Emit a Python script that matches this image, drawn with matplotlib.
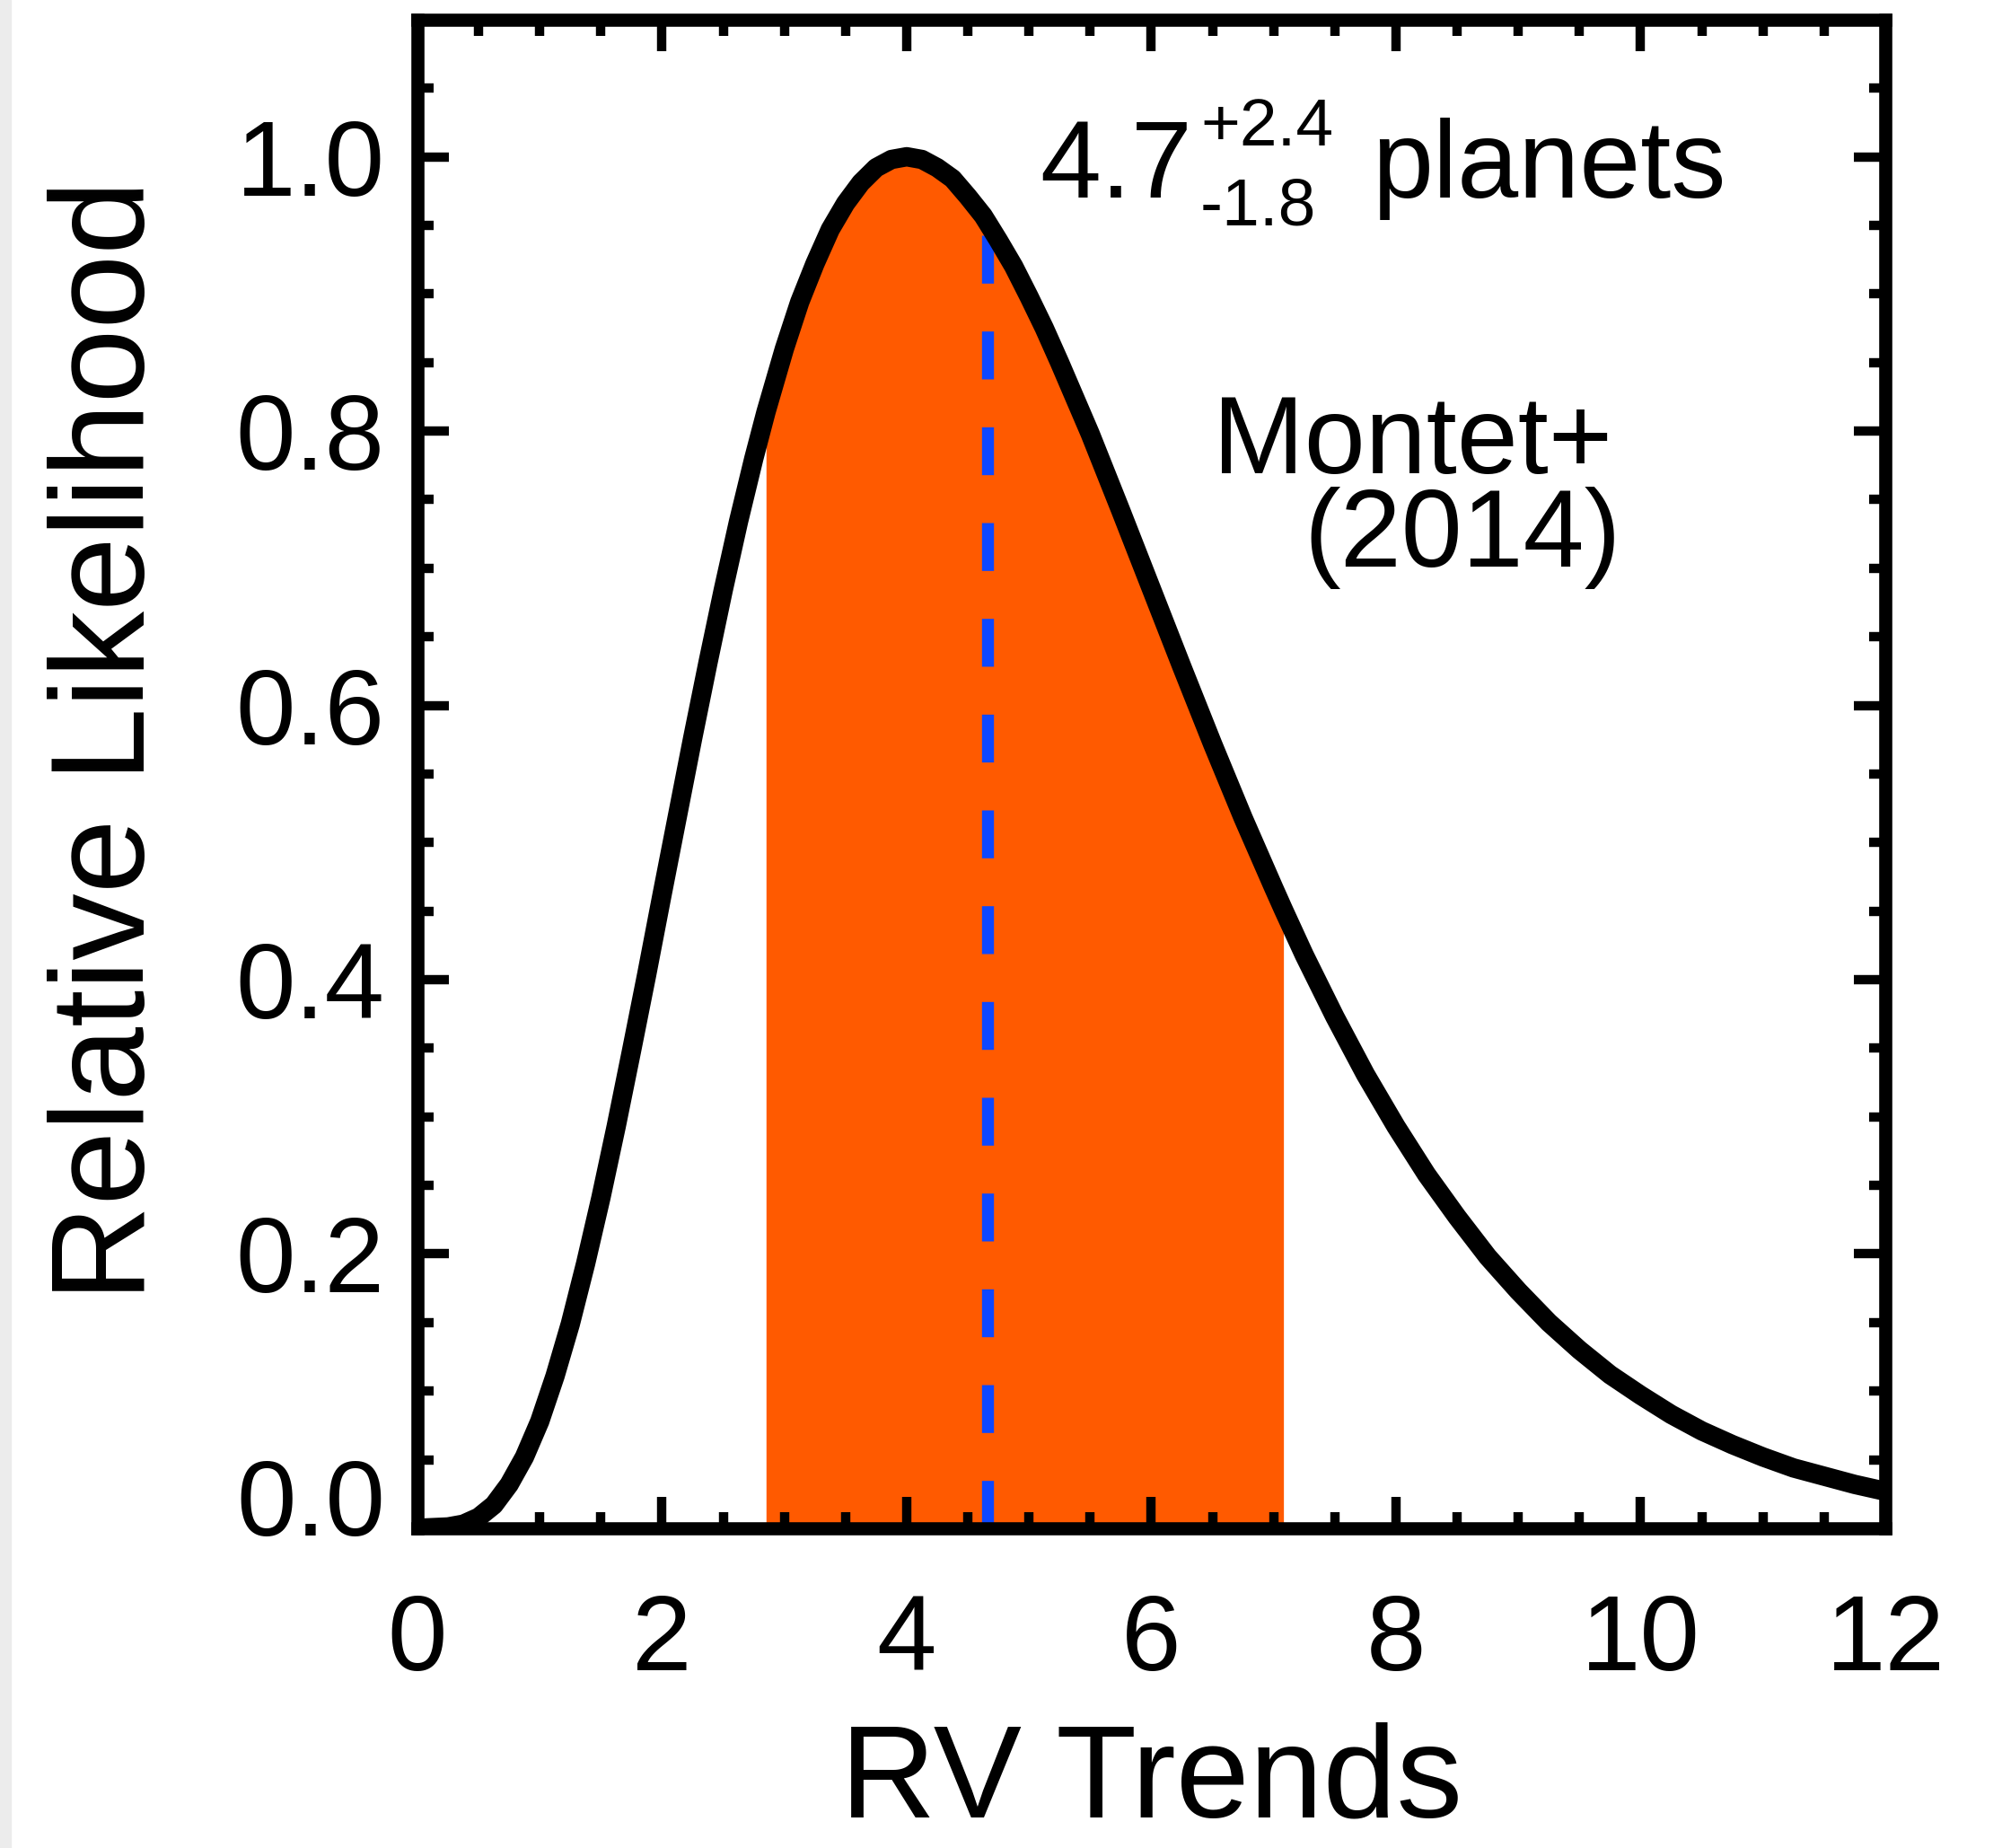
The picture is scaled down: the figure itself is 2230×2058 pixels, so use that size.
"""
plot.py
Relative likelihood of the number of RV-trend planets (Montet+ 2014)
"""

import matplotlib
matplotlib.use("Agg")
import matplotlib.pyplot as plt
from matplotlib.ticker import MultipleLocator
from matplotlib.transforms import ScaledTranslation
from matplotlib.patches import Rectangle

# -------------------------------------------------
# Data
# -------------------------------------------------

RV_TRENDS = [0.0, 0.25, 0.375, 0.5, 0.625, 0.75, 0.875, 1.0, 1.125, 1.25,
             1.375, 1.5, 1.625, 1.75, 1.875, 2.0, 2.125, 2.25, 2.375, 2.5,
             2.625, 2.75, 2.85, 3.0, 3.125, 3.25, 3.375, 3.5, 3.625, 3.75,
             3.875, 4.0, 4.125, 4.25, 4.375, 4.5, 4.625, 4.66, 4.75, 4.875,
             5.0, 5.125, 5.25, 5.375, 5.5, 5.625, 5.75, 6.0, 6.25, 6.5,
             6.75, 7.0, 7.08, 7.25, 7.5, 7.75, 8.0, 8.25, 8.5, 8.75, 9.0,
             9.25, 9.5, 9.75, 10.0, 10.25, 10.5, 10.75, 11.0, 11.25, 11.5,
             11.75, 12.0]

LIKELIHOOD = [0.000, 0.001, 0.003, 0.008, 0.017, 0.032, 0.052, 0.078, 0.111,
              0.149, 0.193, 0.241, 0.293, 0.348, 0.404, 0.462, 0.519, 0.576,
              0.631, 0.684, 0.734, 0.780, 0.814, 0.860, 0.894, 0.922, 0.947,
              0.966, 0.981, 0.992, 0.998, 1.000, 0.998, 0.992, 0.984, 0.971,
              0.957, 0.952, 0.939, 0.920, 0.898, 0.875, 0.850, 0.824, 0.798,
              0.770, 0.742, 0.685, 0.628, 0.572, 0.518, 0.467, 0.451, 0.418,
              0.373, 0.331, 0.293, 0.258, 0.227, 0.198, 0.173, 0.150, 0.130,
              0.112, 0.097, 0.083, 0.071, 0.061, 0.052, 0.044, 0.038, 0.032,
              0.027]

CI_LOW = 2.85
CI_HIGH = 7.08
MEDIAN = 4.66
MEDIAN_LIK = 0.952

X_TICKS = [0, 2, 4, 6, 8, 10, 12]
X_TICK_LABELS = ["0", "2", "4", "6", "8", "10", "12"]
Y_TICKS = [0.0, 0.2, 0.4, 0.6, 0.8, 1.0]
Y_TICK_LABELS = ["0.0", "0.2", "0.4", "0.6", "0.8", "1.0"]

ORANGE = "#ff5a00"
BLUE = "#0d47ff"

# -------------------------------------------------
# Figure
# -------------------------------------------------

plt.rcParams["font.family"] = ["Liberation Sans", "DejaVu Sans"]

fig = plt.figure(figsize=(22.3, 20.58), dpi=100)
fig.patches.append(Rectangle((0, 0), 0.0055, 1, transform=fig.transFigure,
                             color="#ececec", zorder=0))

ax = fig.add_axes([0.2085, 0.173, 0.7332, 0.8164])

# shaded 68% interval
x_fill = [x for x in RV_TRENDS if CI_LOW <= x <= CI_HIGH]
y_fill = [y for x, y in zip(RV_TRENDS, LIKELIHOOD) if CI_LOW <= x <= CI_HIGH]
ax.fill_between(x_fill, 0, y_fill, color=ORANGE, lw=0, zorder=1)

# median
ax.plot([MEDIAN, MEDIAN], [0, MEDIAN_LIK], color=BLUE, lw=9.6,
        linestyle=(0, (4, 4)), dash_capstyle="butt", zorder=2)

# likelihood curve
ax.plot(RV_TRENDS, LIKELIHOOD, color="black", lw=15.5,
        solid_capstyle="round", solid_joinstyle="round", zorder=3)

# -------------------------------------------------
# Axes
# -------------------------------------------------

ax.set_xlim(0, 12)
ax.set_ylim(0, 1.1)

ax.set_xticks(X_TICKS)
ax.set_xticklabels(X_TICK_LABELS)
ax.set_yticks(Y_TICKS)
ax.set_yticklabels(Y_TICK_LABELS)
ax.xaxis.set_minor_locator(MultipleLocator(0.5))
ax.yaxis.set_minor_locator(MultipleLocator(0.05))

for s in ax.spines.values():
    s.set_linewidth(10.5)

ax.tick_params(which="both", direction="in", top=True, right=True,
               width=7.5, color="black")
ax.tick_params(which="major", length=25, labelsize=86)
ax.tick_params(which="minor", length=13)
ax.tick_params(axis="x", which="major", pad=52)
ax.tick_params(axis="y", which="major", pad=26)

# the 0.0 label sits on top of the axis in the original
zero_lbl = ax.get_yticklabels()[0]
zero_lbl.set_transform(zero_lbl.get_transform()
                       + ScaledTranslation(0, 0.35, fig.dpi_scale_trans))

ax.set_xlabel("RV Trends", fontsize=106)
ax.set_ylabel("Relative Likelihood", fontsize=107)
ax.xaxis.set_label_coords(0.5, -0.128)
ax.yaxis.set_label_coords(-0.167, 0.522)

# -------------------------------------------------
# Annotations
# -------------------------------------------------

ax.text(5.09, 0.970, "4.7", fontsize=88, va="baseline", ha="left")
ax.text(6.40, 1.008, "+2.4", fontsize=54, va="baseline", ha="left")
ax.text(6.40, 0.950, "-1.8", fontsize=54, va="baseline", ha="left")
ax.text(7.80, 0.970, "planets", fontsize=88, va="baseline", ha="left")

ax.text(6.50, 0.769, "Montet+", fontsize=88, va="baseline", ha="left")
ax.text(7.25, 0.701, "(2014)", fontsize=88, va="baseline", ha="left")

fig.savefig("out.png", dpi=100)
plt.close(fig)
